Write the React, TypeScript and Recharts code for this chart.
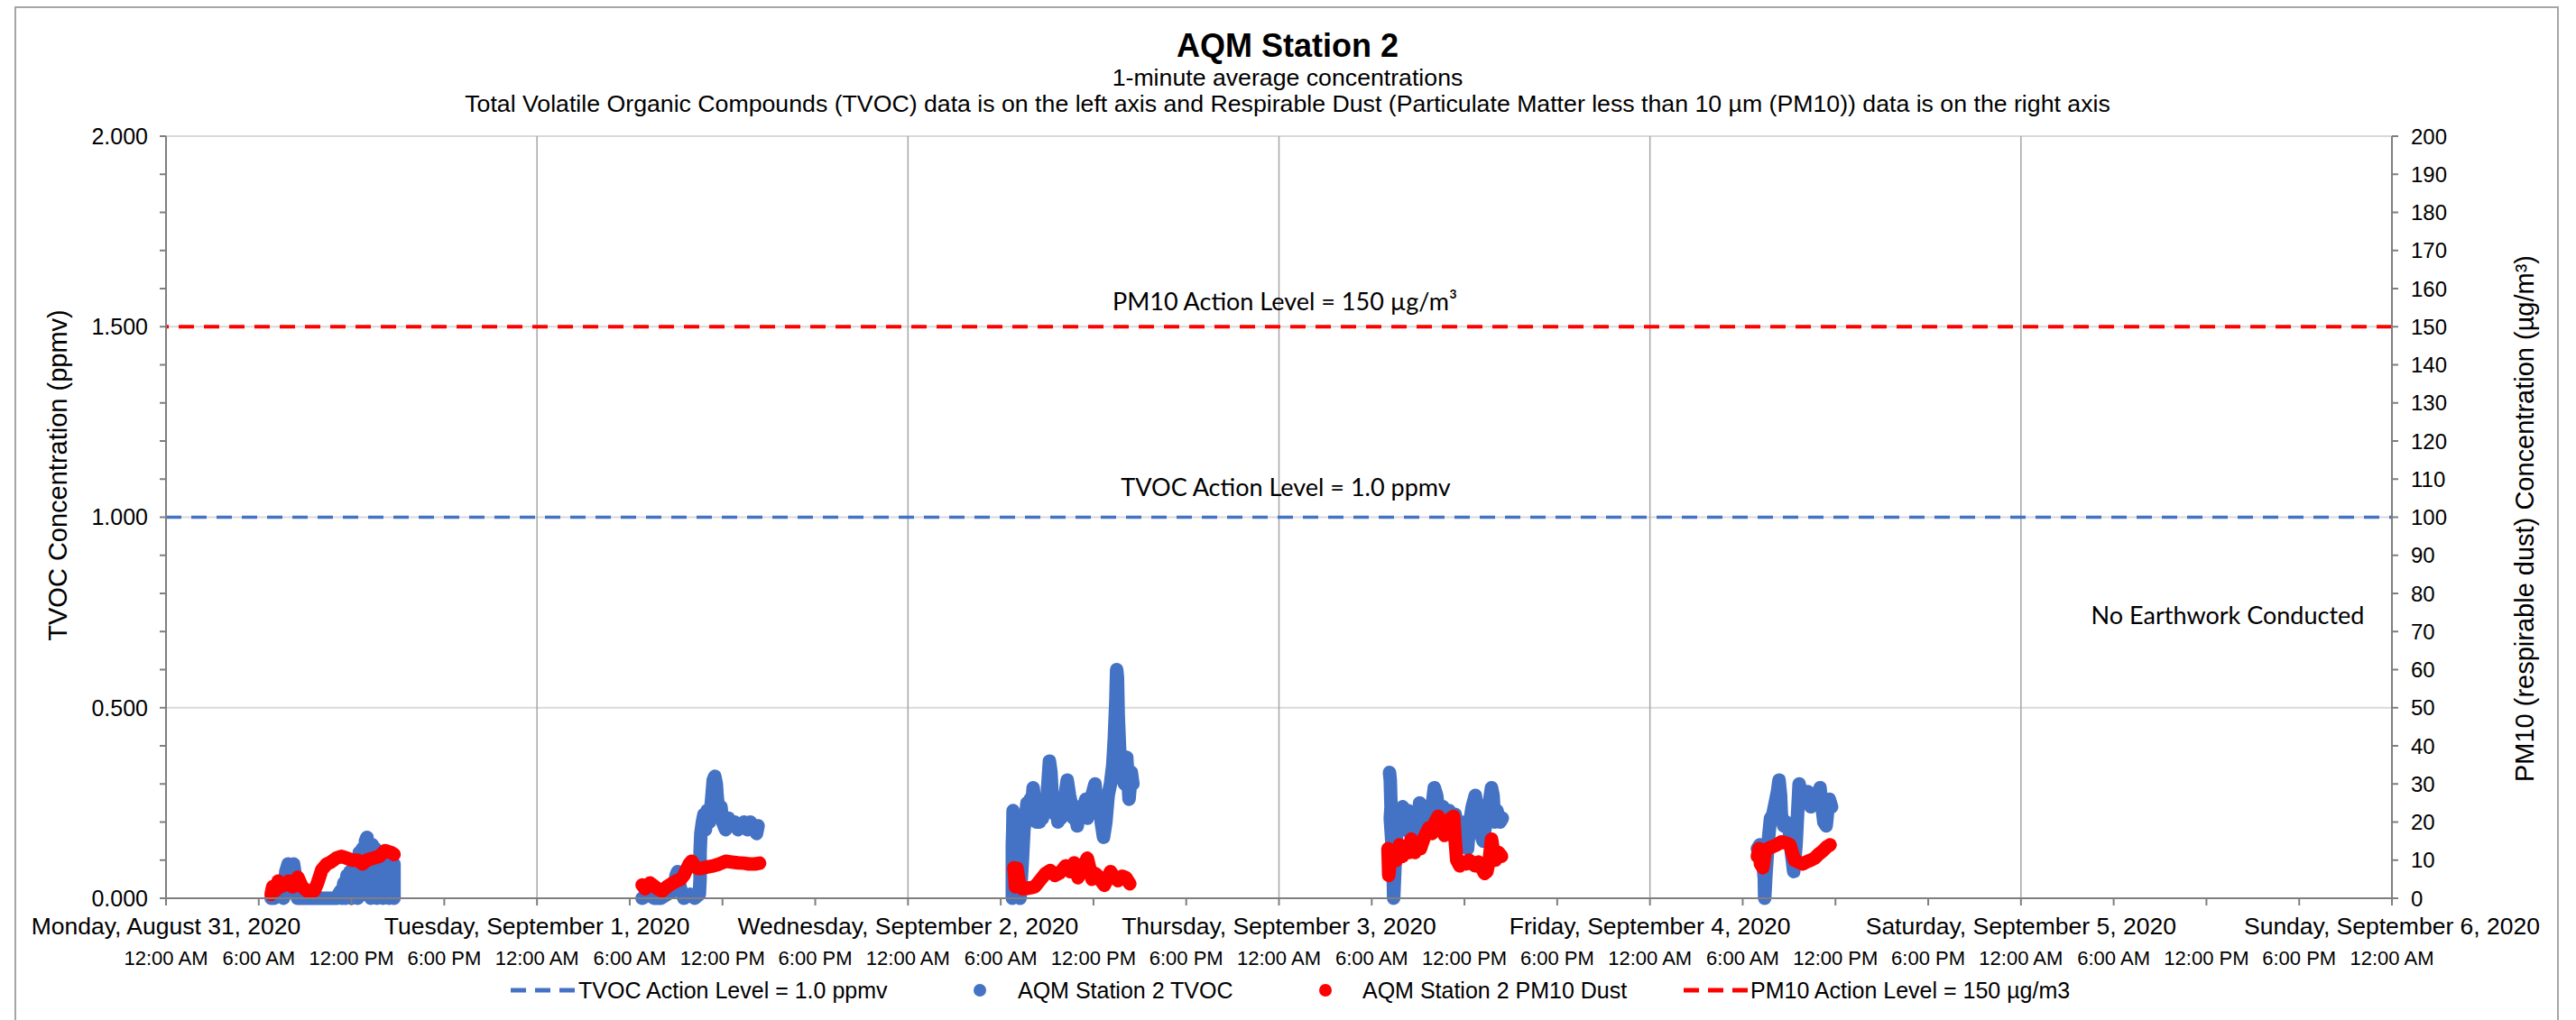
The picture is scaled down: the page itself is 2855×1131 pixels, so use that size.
import React from "react";
import { ComposedChart, Line, XAxis, YAxis, CartesianGrid, ReferenceLine } from "recharts";

const dayLabels = [
  "Monday, August 31, 2020",
  "Tuesday, September 1, 2020",
  "Wednesday, September 2, 2020",
  "Thursday, September 3, 2020",
  "Friday, September 4, 2020",
  "Saturday, September 5, 2020",
  "Sunday, September 6, 2020",
];
const timeLabels = ["12:00 AM", "6:00 AM", "12:00 PM", "6:00 PM"];
const hourTicks = [0, 6, 12, 18, 24, 30, 36, 42, 48, 54, 60, 66, 72, 78, 84, 90, 96, 102, 108, 114, 120, 126, 132, 138, 144];
const dayLines = [24, 48, 72, 96, 120];
const tvocTicks = [0, 0.1, 0.2, 0.3, 0.4, 0.5, 0.6, 0.7, 0.8, 0.9, 1, 1.1, 1.2, 1.3, 1.4, 1.5, 1.6, 1.7, 1.8, 1.9, 2];
const tvocGrid = [0.5, 1, 1.5, 2];
const pmTicks = [0, 10, 20, 30, 40, 50, 60, 70, 80, 90, 100, 110, 120, 130, 140, 150, 160, 170, 180, 190, 200];

const tvocLimit = 1.0;
const pmLimit = 150;

// [hour of day, ppmv]
const tvocMon = [
  [6.8, 0], [7.0, 0], [7.3, 0.01], [7.6, 0], [7.75, 0.07], [7.9, 0.09], [8.1, 0.08], [8.25, 0.09], [8.4, 0.05],
  [8.5, 0], [9.0, 0], [9.5, 0], [10.0, 0], [10.5, 0], [11.0, 0], [11.3, 0.02], [11.4, 0], [11.5, 0.04], [11.6, 0],
  [11.7, 0.06], [11.8, 0.01], [11.9, 0.07], [12.0, 0], [12.1, 0.08], [12.2, 0.01], [12.3, 0.1], [12.4, 0],
  [12.5, 0.12], [12.6, 0.02], [12.7, 0.13], [12.8, 0.01], [12.9, 0.15], [13.0, 0.16], [13.05, 0.02], [13.15, 0.14],
  [13.25, 0], [13.35, 0.14], [13.45, 0.01], [13.55, 0.13], [13.65, 0], [13.75, 0.12], [13.85, 0.02], [13.95, 0.12],
  [14.05, 0], [14.15, 0.11], [14.25, 0.01], [14.35, 0.1], [14.45, 0], [14.55, 0.1], [14.65, 0.01], [14.75, 0.09], [14.75, 0],
];
const tvocTue = [
  [6.8, 0], [7.2, 0.01], [7.6, 0], [8.0, 0], [8.4, 0.01], [8.8, 0.02], [9.0, 0.06], [9.1, 0.07], [9.25, 0.03],
  [9.5, 0], [9.9, 0.01], [10.2, 0], [10.5, 0.01], [10.55, 0.05], [10.55, 0.12], [10.6, 0.17], [10.7, 0.2],
  [10.8, 0.22], [10.9, 0.18], [11.0, 0.23], [11.15, 0.2], [11.3, 0.26], [11.4, 0.31], [11.5, 0.32], [11.6, 0.3],
  [11.65, 0.27], [11.7, 0.25], [11.75, 0.22], [11.9, 0.24], [12.0, 0.2], [12.2, 0.18], [12.4, 0.21], [12.6, 0.19],
  [12.8, 0.2], [13.0, 0.18], [13.2, 0.19], [13.4, 0.2], [13.6, 0.18], [13.8, 0.2], [14.0, 0.19], [14.2, 0.17], [14.3, 0.19],
];
const tvocWed = [
  [6.75, 0], [6.75, 0.14], [6.78, 0.18], [6.8, 0.23], [6.9, 0.2], [7.0, 0.12], [7.1, 0.05], [7.25, 0], [7.4, 0.1],
  [7.5, 0.18], [7.6, 0.21], [7.7, 0.25], [7.8, 0.22], [7.9, 0.26], [8.0, 0.24], [8.1, 0.29], [8.2, 0.24], [8.3, 0.2],
  [8.4, 0.23], [8.5, 0.2], [8.6, 0.25], [8.7, 0.21], [8.8, 0.23], [9.0, 0.27], [9.15, 0.36], [9.25, 0.33],
  [9.35, 0.25], [9.5, 0.22], [9.6, 0.25], [9.7, 0.2], [9.8, 0.24], [9.9, 0.21], [10.1, 0.25], [10.3, 0.31],
  [10.45, 0.27], [10.6, 0.24], [10.7, 0.21], [10.8, 0.24], [10.95, 0.19], [11.1, 0.24], [11.2, 0.21], [11.3, 0.23],
  [11.5, 0.26], [11.6, 0.21], [11.7, 0.24], [11.9, 0.27], [12.1, 0.3], [12.2, 0.25], [12.3, 0.22], [12.4, 0.25],
  [12.5, 0.2], [12.65, 0.16], [12.8, 0.2], [12.95, 0.27], [13.1, 0.3], [13.25, 0.35], [13.35, 0.42], [13.45, 0.52],
  [13.5, 0.6], [13.55, 0.58], [13.6, 0.48], [13.7, 0.38], [13.85, 0.33], [14.0, 0.3], [14.15, 0.37], [14.25, 0.3],
  [14.3, 0.26], [14.45, 0.33], [14.55, 0.3],
];
const tvocThu = [
  [7.15, 0.33], [7.2, 0.31], [7.22, 0.28], [7.25, 0.24], [7.2, 0.21], [7.3, 0.15], [7.35, 0.09], [7.4, 0.04],
  [7.42, 0], [7.5, 0.08], [7.6, 0.16], [7.7, 0.21], [7.85, 0.23], [8.0, 0.24], [8.1, 0.18], [8.2, 0.2], [8.35, 0.23],
  [8.5, 0.17], [8.7, 0.22], [8.9, 0.16], [9.1, 0.25], [9.3, 0.19], [9.5, 0.17], [9.7, 0.22], [9.9, 0.24],
  [10.05, 0.29], [10.2, 0.27], [10.4, 0.21], [10.6, 0.24], [10.8, 0.2], [11.0, 0.23], [11.2, 0.19], [11.4, 0.22],
  [11.6, 0.16], [11.8, 0.2], [12.0, 0.15], [12.2, 0.13], [12.35, 0.2], [12.5, 0.24], [12.7, 0.27], [12.9, 0.22],
  [13.05, 0.17], [13.2, 0.15], [13.4, 0.2], [13.6, 0.25], [13.75, 0.29], [13.85, 0.27], [13.95, 0.2], [14.1, 0.23],
  [14.3, 0.2], [14.45, 0.21],
];
const tvocFri = [
  [6.95, 0.13], [7.1, 0.14], [7.3, 0.1], [7.4, 0.05], [7.42, 0], [7.5, 0.06], [7.6, 0.12], [7.7, 0.17], [7.8, 0.21],
  [7.95, 0.22], [8.1, 0.25], [8.25, 0.28], [8.35, 0.31], [8.45, 0.27], [8.5, 0.22], [8.65, 0.19], [8.8, 0.2],
  [9.0, 0.18], [9.15, 0.12], [9.3, 0.07], [9.45, 0.14], [9.55, 0.22], [9.65, 0.3], [9.75, 0.28], [9.85, 0.25],
  [10.0, 0.26], [10.2, 0.28], [10.4, 0.24], [10.6, 0.26], [10.8, 0.25], [11.0, 0.29], [11.1, 0.25], [11.25, 0.2],
  [11.4, 0.19], [11.5, 0.23], [11.6, 0.26], [11.75, 0.24],
];

// [hour of day, ug/m3]
const pmMon = [
  [6.8, 1], [6.9, 3], [7.07, 2], [7.25, 4.5], [7.4, 3], [7.7, 3.5], [7.94, 4.5], [8.2, 3], [8.53, 5.5], [8.8, 3],
  [9.1, 2], [9.3, 1.5], [9.6, 2], [9.8, 4], [10.08, 7.5], [10.4, 9], [10.67, 9.5], [11.0, 10.5], [11.35, 11],
  [11.7, 10.5], [12.03, 10], [12.4, 10], [12.71, 9], [13.0, 10], [13.39, 10.5], [13.8, 11], [14.17, 12.5],
  [14.56, 12], [14.75, 11.5],
];
const pmTue = [
  [6.8, 3.5], [7.0, 2.5], [7.3, 4], [7.5, 3.4], [7.8, 2.5], [8.1, 1.9], [8.4, 3], [8.7, 3.8], [9.0, 4.5], [9.3, 5],
  [9.5, 6], [9.7, 7.8], [9.85, 9], [10.0, 9.7], [10.2, 8.5], [10.4, 7.8], [10.6, 7.8], [11.0, 8.2], [11.4, 8.5],
  [11.8, 9], [12.2, 9.7], [12.6, 9.5], [13.0, 9.3], [13.4, 9.2], [13.7, 9], [14.1, 9], [14.4, 9.2],
];
const pmWed = [
  [6.85, 8], [6.9, 6], [6.95, 3], [7.05, 7.8], [7.2, 4], [7.4, 2.5], [7.7, 2.6], [8.0, 2.8], [8.2, 3], [8.4, 4],
  [8.6, 5], [8.9, 6.5], [9.2, 7.3], [9.5, 6], [9.8, 6.6], [10.0, 7.5], [10.2, 8.5], [10.5, 7], [10.75, 9.3],
  [11.0, 5.4], [11.3, 8], [11.6, 10.5], [11.75, 8], [11.9, 5], [12.1, 6.5], [12.3, 5.8], [12.5, 4.5], [12.7, 3.4],
  [12.9, 5], [13.1, 7], [13.35, 5.5], [13.6, 4.6], [13.85, 5.8], [14.1, 5.4], [14.35, 3.8],
];
const pmThu = [
  [7.05, 13], [7.08, 9], [7.1, 6], [7.2, 10], [7.4, 12], [7.6, 10], [7.8, 14], [8.0, 11], [8.2, 13], [8.4, 12],
  [8.55, 15.5], [8.8, 12], [9.0, 14], [9.15, 13], [9.4, 16], [9.7, 18.5], [9.9, 17], [10.1, 20], [10.3, 21.5],
  [10.5, 19], [10.7, 16.5], [10.9, 19], [11.1, 21], [11.3, 21.5], [11.4, 15], [11.5, 10], [11.7, 8.5], [11.9, 9.5],
  [12.1, 9], [12.3, 10], [12.5, 9], [12.7, 8.5], [12.9, 9.5], [13.1, 8], [13.3, 6.5], [13.45, 7], [13.6, 10],
  [13.75, 15.5], [13.85, 13], [14.0, 10], [14.2, 12], [14.4, 11],
];
const pmFri = [
  [6.95, 11], [7.05, 13], [7.15, 9], [7.3, 8], [7.45, 12], [7.6, 13], [7.9, 13.5], [8.2, 14], [8.5, 14.8],
  [8.8, 14.5], [9.05, 14], [9.2, 12], [9.35, 10], [9.6, 9.5], [9.9, 9], [10.1, 9.5], [10.4, 10], [10.65, 10.5],
  [10.9, 11.5], [11.2, 12.5], [11.45, 13.5], [11.65, 14],
];

const tvocDays = [tvocMon, tvocTue, tvocWed, tvocThu, tvocFri];
const pmDays = [pmMon, pmTue, pmWed, pmThu, pmFri];

const BLUE = "#4472C4";
const RED = "#FF0000";
const AXIS = "#7f7f7f";
const FONT = "'Liberation Sans', Arial, sans-serif";
const NOTE_FONT = "Lato, 'Open Sans', sans-serif";
const BAND = 15;

const toPoints = (day: number, rows: number[][]) => rows.map(([h, v]) => ({ t: day * 24 + h, v }));

const TimeTick = (props: any) => {
  const { x, y, payload } = props;
  const hr = payload.value;
  const isDay = hr % 24 === 0;
  return (
    <g fontFamily={FONT} fill="#000">
      {isDay && (
        <text x={x} y={y} dy={32} textAnchor="middle" fontSize={26.5}>
          {dayLabels[hr / 24]}
        </text>
      )}
      <text x={x} y={y} dy={66} textAnchor="middle" fontSize={22}>
        {timeLabels[(hr % 24) / 6]}
      </text>
    </g>
  );
};

const tvocFmt = (v: number) => (Math.abs(v * 2 - Math.round(v * 2)) < 1e-6 ? v.toFixed(3) : "");

const abs = (left: number, top: number, extra: React.CSSProperties = {}): React.CSSProperties => ({
  position: "absolute",
  left,
  top,
  transform: "translate(-50%, -50%)",
  whiteSpace: "nowrap",
  ...extra,
});

const legendAt = (left: number): React.CSSProperties => ({
  position: "absolute",
  left,
  top: 1098,
  transform: "translateY(-50%)",
  whiteSpace: "nowrap",
  fontSize: 25,
  lineHeight: "28px",
});

const DashIcon = ({ color }: { color: string }) => (
  <svg width={72} height={10} style={{ display: "block" }}>
    <line x1={0} y1={5} x2={72} y2={5} stroke={color} strokeWidth={5} strokeDasharray="17 10" />
  </svg>
);
const DotIcon = ({ color }: { color: string }) => (
  <svg width={16} height={16} style={{ display: "block" }}>
    <circle cx={8} cy={8} r={7} fill={color} />
  </svg>
);

export default function App() {
  return (
    <div style={{ position: "absolute", left: 0, top: 0, width: 2855, height: 1131, background: "#fff", overflow: "hidden", fontFamily: FONT }}>
      <div style={{ position: "absolute", left: 16, top: 7, width: 2820, height: 1200, border: "2px solid #a6a6a6", boxSizing: "border-box" }} />

      <ComposedChart width={2855} height={1131} margin={{ top: 151, right: 104, bottom: 35, left: 84 }}>
        <CartesianGrid xAxisId="time" yAxisId="tvoc" vertical={false} horizontalValues={tvocGrid} stroke="#d9d9d9" strokeWidth={2} />
        <CartesianGrid xAxisId="time" yAxisId="tvoc" horizontal={false} verticalValues={dayLines} stroke="#a6a6a6" strokeWidth={1.5} />
        <XAxis
          xAxisId="time"
          type="number"
          dataKey="t"
          domain={[0, 144]}
          ticks={hourTicks}
          interval={0}
          height={100}
          tickSize={8}
          tickMargin={0}
          stroke={AXIS}
          strokeWidth={2}
          tick={<TimeTick />}
          allowDuplicatedCategory={false}
        />
        <YAxis
          yAxisId="tvoc"
          type="number"
          domain={[0, 2]}
          ticks={tvocTicks}
          interval={0}
          width={100}
          tickSize={7}
          tickMargin={13}
          tickFormatter={tvocFmt}
          stroke={AXIS}
          strokeWidth={2}
          tick={{ fontSize: 25, fill: "#000", fontFamily: FONT }}
        />
        <YAxis
          yAxisId="pm"
          orientation="right"
          type="number"
          domain={[0, 200]}
          ticks={pmTicks}
          interval={0}
          width={100}
          tickSize={7}
          tickMargin={14}
          stroke={AXIS}
          strokeWidth={2}
          tick={{ fontSize: 24, fill: "#000", fontFamily: FONT }}
        />
        <ReferenceLine xAxisId="time" yAxisId="tvoc" y={tvocLimit} stroke={BLUE} strokeWidth={3.5} strokeDasharray="17 11" />
        <ReferenceLine xAxisId="time" yAxisId="pm" y={pmLimit} stroke={RED} strokeWidth={4} strokeDasharray="17 11" />
        {tvocDays.map((rows, i) => (
          <Line
            key={"tvoc" + i}
            name="AQM Station 2 TVOC"
            xAxisId="time"
            yAxisId="tvoc"
            data={toPoints(i, rows)}
            dataKey="v"
            type="linear"
            stroke={BLUE}
            strokeWidth={BAND}
            strokeLinecap="round"
            strokeLinejoin="round"
            dot={false}
            activeDot={false}
            isAnimationActive={false}
          />
        ))}
        {pmDays.map((rows, i) => (
          <Line
            key={"pm" + i}
            name="AQM Station 2 PM10 Dust"
            xAxisId="time"
            yAxisId="pm"
            data={toPoints(i, rows)}
            dataKey="v"
            type="linear"
            stroke={RED}
            strokeWidth={BAND}
            strokeLinecap="round"
            strokeLinejoin="round"
            dot={false}
            activeDot={false}
            isAnimationActive={false}
          />
        ))}
      </ComposedChart>

      <div style={abs(1427, 51, { fontSize: 36, fontWeight: "bold" })}>AQM Station 2</div>
      <div style={abs(1427, 86, { fontSize: 26.7 })}>1-minute average concentrations</div>
      <div style={abs(1427, 115, { fontSize: 26.7 })}>
        Total Volatile Organic Compounds (TVOC) data is on the left axis and Respirable Dust (Particulate Matter less than 10 µm (PM10)) data is on the right axis
      </div>

      <div style={abs(64, 527, { fontSize: 29, transform: "translate(-50%, -50%) rotate(-90deg)" })}>TVOC Concentration (ppmv)</div>
      <div style={abs(2798, 575, { fontSize: 29, transform: "translate(-50%, -50%) rotate(-90deg)" })}>
        PM10 (respirable dust) Concentration (µg/m³)
      </div>

      <div style={abs(1424, 333, { fontSize: 27, fontFamily: NOTE_FONT })}>PM10 Action Level = 150 µg/m³</div>
      <div style={abs(1425, 539, { fontSize: 27, fontFamily: NOTE_FONT })}>TVOC Action Level = 1.0 ppmv</div>
      <div style={abs(2469, 681, { fontSize: 27, fontFamily: NOTE_FONT })}>No Earthwork Conducted</div>

      <div style={legendAt(566)}><DashIcon color={BLUE} /></div>
      <div style={legendAt(641)}>TVOC Action Level = 1.0 ppmv</div>
      <div style={legendAt(1078)}><DotIcon color={BLUE} /></div>
      <div style={legendAt(1128)}>AQM Station 2 TVOC</div>
      <div style={legendAt(1461)}><DotIcon color={RED} /></div>
      <div style={legendAt(1510)}>AQM Station 2 PM10 Dust</div>
      <div style={legendAt(1866)}><DashIcon color={RED} /></div>
      <div style={legendAt(1940)}>PM10 Action Level = 150 µg/m3</div>
    </div>
  );
}
